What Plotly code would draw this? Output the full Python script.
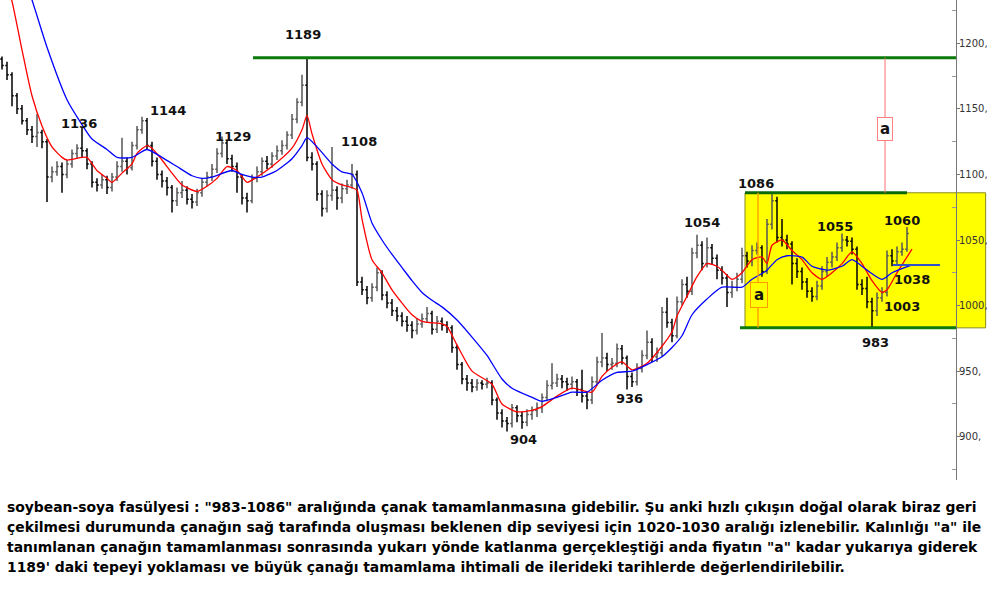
import plotly.graph_objects as go

# ---------------- data ----------------
first_open = 1188
close = [1183,1176,1160,1150,1141,1134,1129,1132,1125,1098,
         1102,1106,1100,1108,1116,1120,1118,1108,1094,1092,
         1096,1090,1098,1106,1110,1105,1122,1134,1141,1122,
         1110,1100,1095,1090,1080,1086,1088,1081,1079,1086,
         1094,1098,1104,1116,1124,1112,1106,1098,1082,1080,
         1097,1102,1110,1108,1114,1118,1122,1130,1142,1155,
         1168,1113,1108,1085,1074,1084,1088,1082,1089,1092,
         1100,1018,1012,1006,1014,1025,1008,1002,996,992,
         988,985,981,986,990,994,982,988,985,983,
         968,955,944,941,938,941,940,941,928,918,
         912,910,922,916,911,917,920,922,930,939,
         941,944,942,940,942,936,931,928,942,957,
         960,955,956,967,960,946,942,952,962,972,
         961,964,995,987,977,1003,1016,1011,1040,1046,
         1032,1044,1036,1027,1021,1010,1014,1020,1038,1034,
         1042,1044,1026,1062,1080,1052,1050,1047,1032,1026,
         1018,1011,1007,1015,1026,1033,1037,1044,1050,1049,
         1043,1016,1013,1003,996,1006,1010,1038,1034,1041,
         1043,1055]
high = [1190,1186,1178,1162,1153,1143,1137,1146,1134,1127,
        1106,1110,1109,1111,1119,1123,1136,1120,1110,1097,
        1100,1099,1101,1110,1128,1113,1125,1137,1144,1143,
        1125,1113,1103,1098,1092,1090,1095,1091,1085,1089,
        1097,1102,1108,1120,1129,1126,1115,1109,1100,1086,
        1100,1106,1113,1114,1117,1122,1126,1133,1146,1158,
        1176,1189,1117,1110,1088,1088,1121,1091,1093,1096,
        1108,1103,1022,1015,1017,1029,1027,1011,1005,999,
        995,992,988,990,994,999,996,992,991,988,
        985,970,957,947,944,944,943,945,943,930,
        921,915,925,924,919,921,923,926,933,943,
        956,948,947,945,946,944,951,934,946,961,
        979,964,960,971,970,962,949,956,966,981,
        975,968,999,1006,990,1007,1020,1022,1044,1054,
        1049,1052,1047,1039,1030,1024,1019,1025,1044,1041,
        1046,1048,1046,1066,1086,1083,1066,1054,1049,1036,
        1029,1021,1014,1019,1030,1037,1041,1048,1055,1053,
        1052,1045,1020,1022,1006,1010,1014,1042,1043,1045,
        1048,1060]
low = [1180,1172,1152,1146,1138,1130,1124,1121,1120,1079,
       1094,1099,1086,1097,1105,1112,1113,1104,1090,1087,
       1089,1085,1087,1095,1102,1100,1103,1119,1131,1119,
       1106,1096,1090,1084,1071,1076,1082,1077,1074,1076,
       1083,1091,1095,1101,1113,1108,1102,1086,1077,1071,
       1078,1094,1099,1104,1105,1111,1115,1119,1127,1139,
       1152,1110,1103,1080,1068,1071,1080,1073,1078,1085,
       1089,1015,1008,1001,1003,1011,1004,998,992,988,
       984,980,975,978,983,987,978,979,981,979,
       964,951,940,935,934,935,936,937,924,913,
       907,904,907,911,906,908,913,915,918,927,
       936,938,937,935,936,931,926,921,925,939,
       953,950,951,953,955,936,938,939,949,959,
       957,957,961,983,972,975,1000,1006,1008,1036,
       1027,1029,1031,1020,1016,999,1006,1011,1017,1029,
       1030,1039,1022,1024,1058,1048,1045,1043,1016,1021,
       1012,1006,1003,1004,1012,1022,1029,1034,1041,1045,
       1039,1012,1008,998,983,992,1003,1007,1030,1031,
       1038,1041]
bar_index = list(range(len(close)))
open_ = [first_open] + close[:-1]

# fast moving average (red)
ma_fast_x = [0,2,4,6,8,10,12,13,16,17,19,21,22,24,26,27,29,30,32,34,36,39,41,43,45,47,49,51,54,58,
             60,61,62,64,66,68,70,71,72,74,76,78,82,84,88,89,91,94,98,100,103,106,108,111,114,118,120,
             122,124,126,129,132,134,135,137,139,141,143,144,146,148,150,152,153,154,156,158,160,162,
             164,166,168,170,172,174,176,177,179,182]
ma_fast_y = [1258,1232,1195,1160,1137,1121,1113,1111,1113,1113,1103,1097,1094,1101,1108,1116,1122,1120,
             1111,1101,1092,1087,1091,1097,1106,1103,1094,1098,1106,1120,1134,1145,1131,1108,1096,1092,
             1090,1088,1066,1035,1025,1012,993,988,986,984,970,950,940,925,919,920,923,931,937,934,946,
             953,957,951,956,969,980,992,1007,1022,1032,1030,1027,1020,1025,1035,1037,1032,1046,1050,
             1042,1035,1025,1020,1025,1032,1041,1032,1019,1010,1012,1025,1043]
# slow moving average (blue)
ma_slow_x = [5,6,9,13,16,18,21,23,26,29,32,35,38,40,42,46,48,50,52,55,58,60,61,63,66,68,70,72,74,76,
             78,80,82,84,86,88,91,94,97,100,102,106,108,111,114,117,120,123,126,129,132,134,136,138,141,
             144,148,150,153,155,157,160,162,165,168,170,173,176,178,182]
ma_slow_y = [1243,1233,1197,1157,1138,1127,1119,1113,1113,1119,1113,1106,1099,1097,1098,1103,1100,1098,
             1098,1103,1112,1122,1128,1121,1108,1102,1100,1086,1063,1050,1039,1029,1019,1010,1004,999,
             989,976,962,944,937,930,927,930,934,934,943,949,950,955,961,968,977,993,1005,1014,1014,1020,
             1027,1035,1038,1037,1030,1027,1030,1035,1027,1020,1025,1031]

y_tick_vals = [900, 950, 1000, 1050, 1100, 1150, 1200]
y_tick_text = ["900,", "950,", "1000,", "1050,", "1100,", "1150,", "1200,"]

peak_labels = ["1189", "1136", "1144", "1129", "1108", "1086", "1054", "1055", "1060", "1038", "1003", "983", "904", "936"]
peak_x = [60.2, 15.4, 33.2, 46.2, 71.4, 150.8, 140, 166.6, 180, 182, 180, 174.6, 104.2, 125.4]
peak_y = [1207, 1139, 1149, 1129, 1125, 1093, 1063, 1060, 1065, 1020, 999, 972, 898, 929]

top_level = 1189
box_top = 1086
box_bottom = 983
blue_level = 1031

comment_lines = [
    'soybean-soya fasülyesi : "983-1086" aralığında çanak tamamlanmasına gidebilir. Şu anki hızlı çıkışın doğal olarak biraz geri',
    'çekilmesi durumunda çanağın sağ tarafında oluşması beklenen dip seviyesi için 1020-1030 aralığı izlenebilir. Kalınlığı "a" ile',
    'tanımlanan çanağın tamamlanması sonrasında yukarı yönde katlanma gerçekleştiği anda fiyatın "a" kadar yukarıya giderek',
    "1189' daki tepeyi yoklaması ve büyük çanağı tamamlama ihtimali de ilerideki tarihlerde değerlendirilebilir.",
]

# ---------------- figure ----------------
X0, X1 = -0.4, 190.8
fig = go.Figure()

fig.add_trace(go.Ohlc(
    x=bar_index, open=open_, high=high, low=low, close=close,
    increasing=dict(line=dict(color="#555555", width=1.5)),
    decreasing=dict(line=dict(color="#000000", width=1.5)),
    tickwidth=0.35, showlegend=False, hoverinfo="skip"))

fig.add_trace(go.Scatter(x=ma_fast_x, y=ma_fast_y, mode="lines",
                         line=dict(color="#ff0000", width=1.3, shape="spline", smoothing=0.6),
                         showlegend=False, hoverinfo="skip"))
fig.add_trace(go.Scatter(x=ma_slow_x, y=ma_slow_y, mode="lines",
                         line=dict(color="#0000ff", width=1.3, shape="spline", smoothing=0.6),
                         showlegend=False, hoverinfo="skip"))

shapes = []
# yellow zone (extends slightly past the axis)
shapes.append(dict(type="rect", xref="paper", yref="y", x0=(148.6 - X0) / (X1 - X0), x1=1.031,
                   y0=box_bottom, y1=box_top, fillcolor="#ffff00",
                   line=dict(color="#8a8a20", width=1), layer="below"))
# green levels
shapes.append(dict(type="line", xref="x", yref="y", x0=50.2, x1=X1, y0=top_level, y1=top_level,
                   line=dict(color="#0a7a0a", width=3)))
shapes.append(dict(type="line", xref="x", yref="y", x0=147.6, x1=X1, y0=box_bottom, y1=box_bottom,
                   line=dict(color="#0a7a0a", width=3)))
shapes.append(dict(type="line", xref="x", yref="y", x0=148.6, x1=181, y0=box_top, y1=box_top,
                   line=dict(color="#0a6a0a", width=3)))
# red projection line
shapes.append(dict(type="line", xref="x", yref="y", x0=176.6, x1=176.6, y0=box_top, y1=top_level,
                   line=dict(color="#ff7070", width=1)))
# orange depth line
shapes.append(dict(type="line", xref="x", yref="y", x0=151.2, x1=151.2, y0=box_bottom, y1=box_top,
                   line=dict(color="#ff9a00", width=1.3)))
# blue short level
shapes.append(dict(type="line", xref="x", yref="y", x0=178.2, x1=187.6, y0=blue_level, y1=blue_level,
                   line=dict(color="#3050d0", width=2)))

annotations = []
for t, xx, yy in zip(peak_labels, peak_x, peak_y):
    annotations.append(dict(x=xx, y=yy, xref="x", yref="y", text=t, showarrow=False,
                            font=dict(family="DejaVu Sans", size=13, color="#111111", weight="bold")))

annotations.append(dict(x=176.6, y=1135, xref="x", yref="y", text="a", showarrow=False,
                        font=dict(family="DejaVu Sans", size=15, color="#111111", weight="bold"),
                        bgcolor="#ffffff", bordercolor="#ff8080", borderwidth=1, borderpad=2))
annotations.append(dict(x=151.4, y=1008, xref="x", yref="y", text="a", showarrow=False,
                        font=dict(family="DejaVu Sans", size=15, color="#111111", weight="bold"),
                        bgcolor="#ffff00", bordercolor="#ff9a00", borderwidth=1, borderpad=3))

line_px = [507, 527, 547, 567]
for txt, py in zip(comment_lines, line_px):
    annotations.append(dict(x=0.005, y=(480 - py) / 480, xref="paper", yref="paper", text=txt,
                            showarrow=False, xanchor="left", yanchor="middle",
                            font=dict(family="DejaVu Sans", size=13.9, color="#000000",
                                      weight="bold")))

fig.update_layout(
    width=1000, height=604,
    margin=dict(l=0, r=44, t=0, b=124),
    paper_bgcolor="#ffffff", plot_bgcolor="#ffffff",
    shapes=shapes, annotations=annotations,
    xaxis=dict(range=[X0, X1], visible=False, rangeslider=dict(visible=False), fixedrange=True),
    yaxis=dict(range=[867, 1233], side="right", showgrid=False, zeroline=False,
               showline=True, linecolor="#777777", linewidth=1,
               tickvals=y_tick_vals, ticktext=y_tick_text, ticks="outside", ticklen=3,
               tickcolor="#777777", ticklabelstandoff=-3,
               tickfont=dict(family="DejaVu Sans", size=10, color="#333333"),
               minor=dict(tickvals=[875, 925, 975, 1025, 1075, 1125, 1175, 1225],
                          ticks="inside", ticklen=4, tickcolor="#999999"),
               fixedrange=True),
    hovermode=False,
)

fig.write_html("out.html", config={"displayModeBar": False},
               post_script="document.body.style.margin='0';")
